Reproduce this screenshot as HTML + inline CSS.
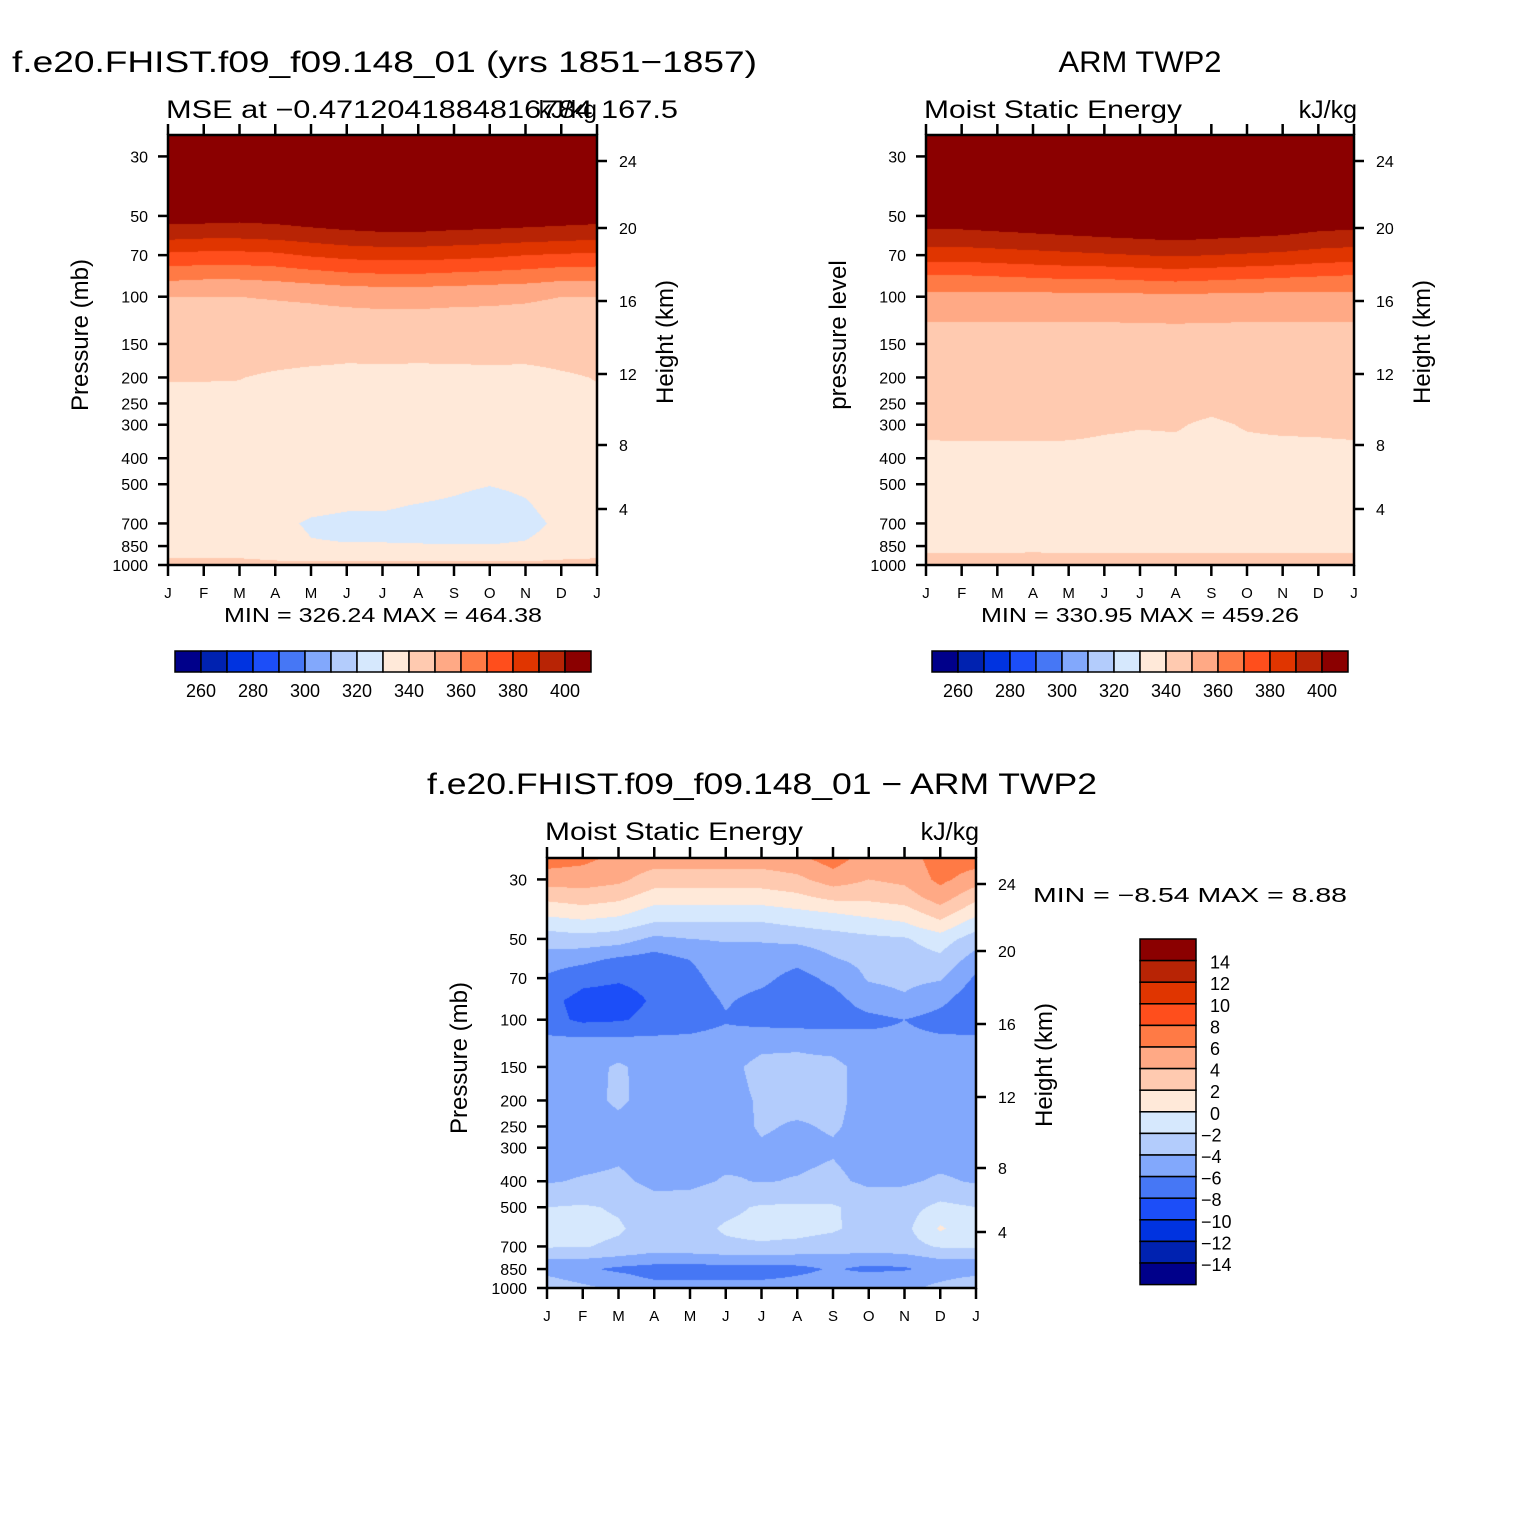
<!DOCTYPE html>
<html><head><meta charset="utf-8">
<style>
html,body{margin:0;padding:0;background:#fff;}
#wrap{position:relative;width:1524px;height:1524px;overflow:hidden;background:#fff;}
canvas{position:absolute;}
svg{position:absolute;left:0;top:0;}
text{font-family:"Liberation Sans",sans-serif;fill:#000;}
</style></head>
<body>
<div id="wrap">
<canvas id="c1" width="429" height="430" style="left:168px;top:135px"></canvas>
<canvas id="c2" width="428" height="430" style="left:926px;top:135px"></canvas>
<canvas id="c3" width="429" height="430" style="left:547px;top:858px"></canvas>
<svg id="s" width="1524" height="1524"></svg>
</div>
<script>
// ---- data ----
const months = ["J","F","M","A","M","J","J","A","S","O","N","D","J"];
const pressureTicks = [30,50,70,100,150,200,250,300,400,500,700,850,1000];
const heightTicks = [24,20,16,12,8,4];
const mseLevelLabels = [260,280,300,320,340,360,380,400];
const diffLevelLabels = [14,12,10,8,6,4,2,0,-2,-4,-6,-8,-10,-12,-14];
const palette = ["#00008a","#0022b0","#0033e0","#1c4ef8","#4677f5","#82a8fc","#b3ccfc","#d6e8fd","#ffe9d9","#ffcab0","#ffa985","#ff7a45","#ff4e1c","#e03500","#b82405","#8b0000"];

const levelsModel = [25,40,50,60,70,85,100,150,200,300,400,500,600,700,850,925,1000];
const mseModel = [
[520,520,520,520,520,520,520,520,520,520,520,520,520],
[440,440,440,440,440,440,440,440,440,440,440,440,440],
[405,405,404,405,407,408,409,409,408,408,407,406,405],
[392,391,391,392,394,396,397,397,396,395,394,393,392],
[378,377,377,378,381,383,384,384,383,382,380,379,378],
[362,361,361,362,364,366,367,367,366,365,364,362,362],
[350,350,350,350.5,351,352,352.5,352.5,352,351.5,351,350,350],
[344,344,344,344,344,343,343,343,343,344,344,344,344],
[340.3,340.3,340.2,339,338,337.8,338,337.8,338,337.6,337.4,339,340.3],
[337,337,337,336,336,336,336,336,336,336,336,337,337],
[335,335,335,335,335,335,335,335,334,333.5,334,335,335],
[334,334,334,333,333,333,333,332,331,330.2,331,333,334],
[333,333,333,332,331,330.5,330.5,329.8,329.2,328,329.5,332,333],
[333,333,333,331,329.5,329,329,328.5,328,327.5,328.5,331,333],
[334,334,334,332,330.3,330.2,330.2,330.2,330.2,330.2,330.5,332,334],
[339,339,339,338,337,337,337,337,337,337,337,338,339],
[343,343,343,342,342,342,342,342,342,342,342,343,343]];

const levelsObs = [25,40,50,60,70,85,100,150,200,300,400,500,600,700,850,925,1000];
const mseObs = [
[520,520,520,520,520,520,520,520,520,520,520,520,520],
[440,440,440,440,440,440,440,440,440,440,440,440,440],
[407,407,408,409,410,411,412,413,412,411,410,408,407],
[396,396,397,398,399,400,401,402,401,400,399,397,396],
[385,385,386,387,388,389,390,391,390,389,388,386,385],
[368,368,369,370,371,371,372,373,372,371,370,369,368],
[357,357,357,357,357,357,357.5,358,357.5,357,357,357,357],
[344,344,344,344,344,344,344,344,344,344,344,344,344],
[342,342,342,342,342,342,342,342,342,342,342,342,342],
[341,341,341,341,340.7,340.3,340.1,340.2,339.6,340.2,340.5,340.6,341],
[338.8,339,339,339,339.2,339.3,339.4,339.3,339.4,339.2,339,339,338.8],
[336,336,336,336,336,336,336,336,336,336,336,336,336],
[334,334,334,334,334,334,334,334,334,334,334,334,334],
[333,333,333,333,333,333,333,333,333,333,333,333,333],
[337,337,337,337.5,337,337,337,337,337,337,337,337,337],
[341,341,341,341.5,341,341,341,341,341,341,341,341,341],
[345,345,345,345,345,345,345,345,345,345,345,345,345]];

const levelsDiff = [25,30,35,40,45,50,60,70,85,100,120,150,200,250,300,400,500,600,700,800,850,900,1000];
const mseDiff = [
[7,6.5,5.5,5,5,5,5,5.5,7,5,5,7,7],
[5,5,4.5,3,3,3,3,3.5,5,4,4.5,6.5,5],
[2.5,3,2.5,1,1,1,1,1.5,2.5,2.5,3,5,2.5],
[0.5,1,0.5,-1,-1,-1,-1,-0.5,0,0.5,1,3,0.5],
[-1.5,-1,-1.5,-2.5,-2.5,-2.5,-2.5,-2,-1.5,-1,-0.5,1,-1.5],
[-3,-2.8,-3,-4.5,-4,-3.8,-3.8,-3.5,-3,-2.5,-2.2,-1,-3],
[-5,-5.5,-6.5,-7,-6,-5,-5,-5.5,-4.2,-3.5,-3,-2.5,-5],
[-6.3,-7.5,-7.8,-7.5,-6.5,-5.2,-5.5,-6.7,-5.5,-3.8,-3.5,-3.8,-6.3],
[-7.5,-8.6,-8.7,-7.8,-7,-5.8,-6.6,-7.3,-6.8,-5,-4.3,-5.5,-7.5],
[-7.3,-8.4,-8.2,-7.5,-7,-6.2,-6.8,-7.2,-7,-6.6,-6,-6.8,-7.3],
[-5.5,-5.5,-5.5,-5.5,-5.5,-5.2,-4.5,-4.3,-4.6,-5.3,-5.5,-5.6,-5.5],
[-5,-4.8,-3.7,-4.8,-5,-4.5,-3.5,-3.6,-3.6,-4.6,-5,-5,-5],
[-5,-4.6,-3.7,-4.7,-5,-4.6,-3.8,-3.4,-3.6,-4.6,-5,-5,-5],
[-5,-5,-4.5,-5,-5,-4.8,-3.8,-4.2,-3.8,-4.6,-5,-5,-5],
[-5,-5,-4.5,-5,-5,-4.8,-4.2,-4.5,-4.2,-4.8,-5,-5,-5],
[-4.2,-3.8,-3.6,-4.5,-4.5,-3.8,-4.1,-3.9,-3.6,-4.4,-4.3,-3.7,-4.2],
[-2,-1.8,-2.2,-3.2,-3,-2.4,-1.8,-1.7,-1.8,-2.7,-2.8,-1.5,-2],
[-1.6,-1.5,-1.8,-2.8,-2.6,-1.8,-1.5,-1.5,-1.8,-2.6,-2.6,0.3,-1.6],
[-1.8,-1.9,-2.3,-3,-2.8,-2.3,-2.2,-2.4,-2.7,-3,-2.8,-1.8,-1.8],
[-4.5,-4.5,-5,-5.5,-5.5,-5.5,-5.5,-5.5,-5.3,-5.5,-5.3,-4.5,-4.5],
[-5,-5.5,-6.5,-7,-7,-6.8,-6.8,-6.5,-5.8,-6.5,-6.3,-5,-5],
[-4,-5,-5.5,-6.5,-6.5,-6.5,-6.5,-6,-5.5,-5.5,-5,-4.5,-4],
[-2.5,-3.5,-4.5,-5,-5,-5,-5,-5,-5,-5,-4.5,-3.5,-2.5]];

// ---- axis helpers ----
const PX_DEC = 268.3;
function yOfP(top, h, p){ return top + h - PX_DEC*(3-Math.log10(p)); }
function pOfY(h, yy){ return Math.pow(10, 3-(h-yy)/PX_DEC); }
function hexRgb(h){return [parseInt(h.substr(1,2),16),parseInt(h.substr(3,2),16),parseInt(h.substr(5,2),16)];}
const palRgb = palette.map(hexRgb);
function colorIdxMSE(v){ let i=Math.floor((v-260)/10)+1; return Math.max(0,Math.min(15,i)); }
function colorIdxDiff(v){ let i=Math.floor((v+14)/2)+1; return Math.max(0,Math.min(15,i)); }

function paint(id, levels, grid, idxFn){
  const cv=document.getElementById(id), ctx=cv.getContext('2d');
  const W=cv.width,H=cv.height, img=ctx.createImageData(W,H);
  const lp=levels.map(Math.log10);
  for(let y=0;y<H;y++){
    const l=Math.log10(pOfY(H,y+0.5));
    let k=0; while(k<lp.length-2 && l>lp[k+1]) k++;
    let fy=(l-lp[k])/(lp[k+1]-lp[k]); fy=Math.max(0,Math.min(1,fy));
    for(let x=0;x<W;x++){
      const m=(x+0.5)/W*12; let i=Math.min(11,Math.floor(m)); const fx=m-i;
      const v=(grid[k][i]*(1-fx)+grid[k][i+1]*fx)*(1-fy)+(grid[k+1][i]*(1-fx)+grid[k+1][i+1]*fx)*fy;
      const c=palRgb[idxFn(v)], o=(y*W+x)*4;
      img.data[o]=c[0];img.data[o+1]=c[1];img.data[o+2]=c[2];img.data[o+3]=255;
    }
  }
  ctx.putImageData(img,0,0);
}
paint('c1',levelsModel,mseModel,colorIdxMSE);
paint('c2',levelsObs,mseObs,colorIdxMSE);
paint('c3',levelsDiff,mseDiff,colorIdxDiff);

// ---- svg overlay ----
const S=document.getElementById('s'), NS='http://www.w3.org/2000/svg';
function mk(tag,attrs,parent,txt){const e=document.createElementNS(NS,tag);for(const k in attrs)e.setAttribute(k,attrs[k]);if(txt!==undefined)e.textContent=txt;(parent||S).appendChild(e);return e;}
const heightOffsets=[26,93,166,239,310,374];

function panel(x0,y0,w,h,name,leftTitle){
  const g=mk('g',{});
  
  
  const fr=mk('rect',{x:x0,y:y0,width:w,height:h,fill:'none',stroke:'#000','stroke-width':2.5},g);
  
  
  months.forEach((m,i)=>{
    const x=x0+w*i/12;
    mk('line',{x1:x,y1:y0,x2:x,y2:y0-11,stroke:'#000','stroke-width':2.5},g);
    mk('line',{x1:x,y1:y0+h,x2:x,y2:y0+h+11,stroke:'#000','stroke-width':2.5},g);
    const t=mk('text',{x:x,y:y0+h+33,'font-size':15,'text-anchor':'middle'},g,m);
    
    
  });
  pressureTicks.forEach(p=>{
    const y=yOfP(y0,h,p);
    mk('line',{x1:x0,y1:y,x2:x0-10,y2:y,stroke:'#000','stroke-width':2.5},g);
    const t=mk('text',{x:x0-20,y:y+6,'font-size':16,'text-anchor':'end'},g,String(p));
    
    
  });
  heightTicks.forEach((hv,i)=>{
    const y=y0+heightOffsets[i];
    mk('line',{x1:x0+w,y1:y,x2:x0+w+10,y2:y,stroke:'#000','stroke-width':2.5},g);
    const t=mk('text',{x:x0+w+22,y:y+6,'font-size':16},g,String(hv));
    
    
  });
  const lt=mk('text',{x:0,y:0,'font-size':24,'text-anchor':'middle',transform:`translate(${x0-80},${y0+h/2-15}) rotate(-90)`},g,leftTitle);
  
  
  const rt=mk('text',{x:0,y:0,'font-size':24,'text-anchor':'middle',transform:`translate(${x0+w+76},${y0+h/2-8}) rotate(-90)`},g,'Height (km)');
  
  
}
panel(168,135,429,430,'model-panel','Pressure (mb)');
panel(926,135,428,430,'obs-panel','pressure level');
panel(547,858,429,430,'difference-panel','Pressure (mb)');

function txt(x,y,size,s,name,anchor,len){
  const a={x:x,y:y,'font-size':size};
  if(anchor)a['text-anchor']=anchor;
  if(len){a.textLength=len;a.lengthAdjust='spacingAndGlyphs';}
  const t=mk('text',a,S,s);
  
  
  return t;
}
txt(12,72,30,'f.e20.FHIST.f09_f09.148_01 (yrs 1851\u22121857)','model-main-title',null,745);
txt(166,118,25,'MSE at \u22120.4712041884816784 167.5','model-subtitle',null,512);
txt(597,118,25,'kJ/kg','model-units','end');
txt(1140,72,30,'ARM TWP2','obs-main-title','middle',163);
txt(924,118,25,'Moist Static Energy','obs-subtitle',null,258);
txt(1357,118,25,'kJ/kg','obs-units','end');
txt(762,794,30,'f.e20.FHIST.f09_f09.148_01 \u2212 ARM TWP2','difference-main-title','middle',670);
txt(545,840,25,'Moist Static Energy','difference-subtitle',null,258);
txt(979,840,25,'kJ/kg','difference-units','end');
txt(383,622,20,'MIN = 326.24 MAX = 464.38','model-min-max','middle',318);
txt(1140,622,20,'MIN = 330.95 MAX = 459.26','obs-min-max','middle',318);
txt(1190,902,20,'MIN =   \u22128.54 MAX =    8.88','difference-min-max','middle',314);

// horizontal colorbars
function hbar(x0,y0,name){
  const g=mk('g',{});
  
  
  const bw=26;
  palette.forEach((c,i)=>{
    const r=mk('rect',{x:x0+i*bw,y:y0,width:bw,height:21,fill:c,stroke:'#000','stroke-width':1.5},g);
    
    
  });
  mseLevelLabels.forEach((v,j)=>{
    const t=mk('text',{x:x0+bw*(1+2*j),y:y0+46,'font-size':18,'text-anchor':'middle'},g,String(v));
    
    
  });
}
hbar(175,651,'model-colorbar');
hbar(932,651,'obs-colorbar');

// vertical colorbar
(function(){
  const g=mk('g',{});
  
  
  const x0=1140,y0=939,bh=21.6;
  for(let i=0;i<16;i++){
    const r=mk('rect',{x:x0,y:y0+i*bh,width:56,height:bh,fill:palette[15-i],stroke:'#000','stroke-width':1.5},g);
    
    
  }
  diffLevelLabels.forEach((v,j)=>{
    const s=v<0?'\u2212'+(-v):String(v);
    const t=mk('text',{x:v<0?1201:1210,y:y0+bh*(j+1)+8,'font-size':18},g,s);
    
    
  });
})();
</script>
</body></html>
